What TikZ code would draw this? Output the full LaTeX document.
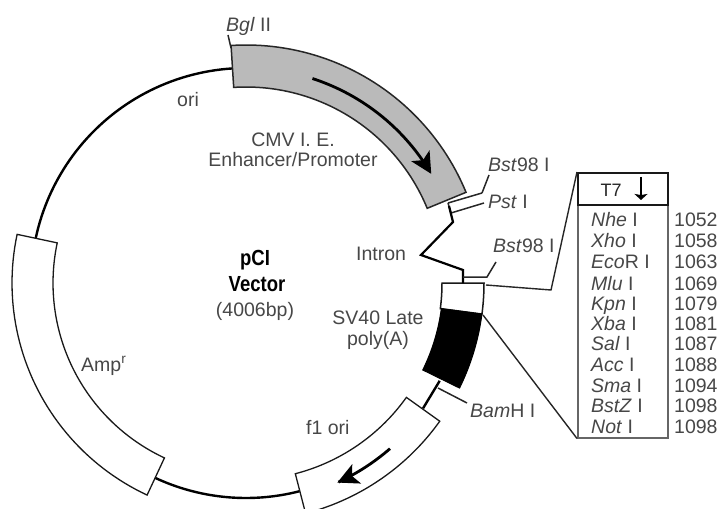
\documentclass[tikz,border=0pt]{standalone}
\usepackage{fontspec}
\setmainfont{Liberation Sans}
\usetikzlibrary{arrows.meta}
\newcommand{\Arc}[4][]{\draw[#1] plot[domain=#2:#3,samples=50] ({246+(#4)*cos(\x)},{283-(#4)*sin(\x)});}
\newcommand{\Band}[5][]{\draw[#1] plot[domain=#2:#3,samples=50] ({246+(#5)*cos(\x)},{283-(#5)*sin(\x)}) -- plot[domain=#3:#2,samples=50] ({246+(#4)*cos(\x)},{283-(#4)*sin(\x)}) -- cycle;}
\tikzset{
 x=1bp,y=-1bp,
 lab/.style={inner sep=0pt,text=black!72,font=\fontsize{19.5bp}{21bp}\selectfont,align=center},
 lft/.style={lab,anchor=base west},
 backbone/.style={line width=2.4bp,black},
 cassette/.style={line width=1.3bp,black!90,fill=white},
 leader/.style={line width=1.5bp,black!85},
 zoomline/.style={line width=1.4bp,black!85},
 flow/.style={line width=2.8bp,black,-{Stealth[length=21bp,width=21bp,inset=5bp]}}
}
\begin{document}
\begin{tikzpicture}
\useasboundingbox (0,0) rectangle (720,509);
\clip (0,0) rectangle (720,509);
% backbone
\Arc[backbone]{93.6}{168}{215}
\Arc[backbone]{245}{284.5}{215}
\coordinate (f1a) at (423,408.4);
\coordinate (bla) at (439.7,380.8);
\draw[backbone] (bla) -- (f1a);
% CMV band
\Band[line width=1.5bp,black!85,fill=black!27]{93.6}{22.4}{196}{238}
\Arc[flow]{72}{30.5}{215}
% Amp
\Band[cassette]{168}{245}{193}{234}
% f1 ori
\Band[cassette]{284.5}{324.5}{197}{238}
\Arc[flow]{311}{294.6}{219.5}
% SV40
\Band[cassette,line width=1.5bp]{0}{-7.5}{196}{238}
\Band[line width=1bp,fill=black]{-7.5}{-26.2}{197}{238}
% Pst double lines
\coordinate (pa) at (448,203); \coordinate (pb) at (482,193);
\coordinate (pc) at (451,213); \coordinate (pd) at (484,203);
\draw[leader] (pa) -- (pb) (pc) -- (pd) (pa) -- (pc);
% intron
\coordinate (i0) at (449,206); \coordinate (i1) at (453,222); \coordinate (i2) at (421,255);
\coordinate (i3) at (463,270); \coordinate (i4) at (463,283);
\draw[line width=2.2bp,black,line join=miter] (i0) -- (i1) -- (i2) -- (i3) -- (i4);
% leaders
\coordinate (bs1) at (489,175);
\draw[leader] (pb) -- (bs1);
\coordinate (bs2) at (463,277); \coordinate (bs2b) at (487,277); \coordinate (bs2c) at (496,262);
\draw[leader] (bs2) -- (bs2b) -- (bs2c);
\coordinate (bga) at (228,35); \coordinate (bgb) at (231,48);
\draw[leader] (bga) -- (bgb);
\coordinate (bha) at (438,388); \coordinate (bhb) at (467,403);
\draw[leader] (bha) -- (bhb);
% site box
\node[draw=black!60,line width=1.5bp,minimum width=90bp,minimum height=265bp,inner sep=0pt,anchor=north west] (sites) at (577,172) {};
\node[draw=black!90,line width=2bp,fill=white,minimum width=90bp,minimum height=32bp,inner sep=0pt,anchor=north west] (head) at (577,172) {};
\node[lab,text=black!85,font=\fontsize{18bp}{20bp}\selectfont] (t7) at (611,190) {T7};
\coordinate (ar1) at (641,177); \coordinate (ar2) at (641,200);
\draw[line width=2bp,black,-{Stealth[length=6bp,width=13bp,inset=1bp]}] (ar1) -- (ar2);
% zoom lines
\coordinate (z0) at (486,285); \coordinate (z1) at (551,290);
\draw[zoomline] (z0) -- (z1) -- (head.north west);
\coordinate (z2) at (483,315);
\draw[zoomline] (z2) -- (sites.south west);
% site labels
\foreach \n/\s/\v/\yy in {a/{\emph{Nhe} I}/1052/227,b/{\emph{Xho} I}/1058/248,c/{\emph{Eco}R I}/1063/269,d/{\emph{Mlu} I}/1069/290,e/{\emph{Kpn} I}/1079/310,f/{\emph{Xba} I}/1081/330,g/{\emph{Sal} I}/1087/350,h/{\emph{Acc} I}/1088/371,i/{\emph{Sma} I}/1094/392,j/{\emph{BstZ} I}/1098/412,k/{\emph{Not} I}/1098/433}{
 \node[lft] (s\n) at (591,\yy) {\s};
 \node[lft] (v\n) at (674,\yy) {\v};
}
% labels
\node[lft] (bgl) at (226,32) {\emph{Bgl} II};
\node[lab] (ori) at (188,100) {ori};
\node[lab] (cmv) at (293,150) {CMV I. E.\\[-0.5bp]Enhancer/Promoter};
\node[lft] (bst1) at (488,172) {\emph{Bst}98 I};
\node[lft] (pst) at (488,209) {\emph{Pst} I};
\node[lft] (bst2) at (493,253) {\emph{Bst}98 I};
\node[lft] (intron) at (356,261) {Intron};
\node[lab,text=black] (pci) at (255,260) {\scalebox{0.95}[1.12]{\bfseries pCI}};
\node[lab,text=black] (vec) at (257,284) {\scalebox{0.95}[1.12]{\bfseries Vector}};
\node[lab] (bp) at (255,311) {(4006bp)};
\node[lab] (sv) at (378,330) {SV40 Late\\poly(A)};
\node[lft] (amp) at (81,371) {Amp\textsuperscript{r}};
\node[lft] (f1) at (306,434) {f1 ori};
\node[lft] (bam) at (470,417) {\emph{Bam}H I};
\end{tikzpicture}
\end{document}
